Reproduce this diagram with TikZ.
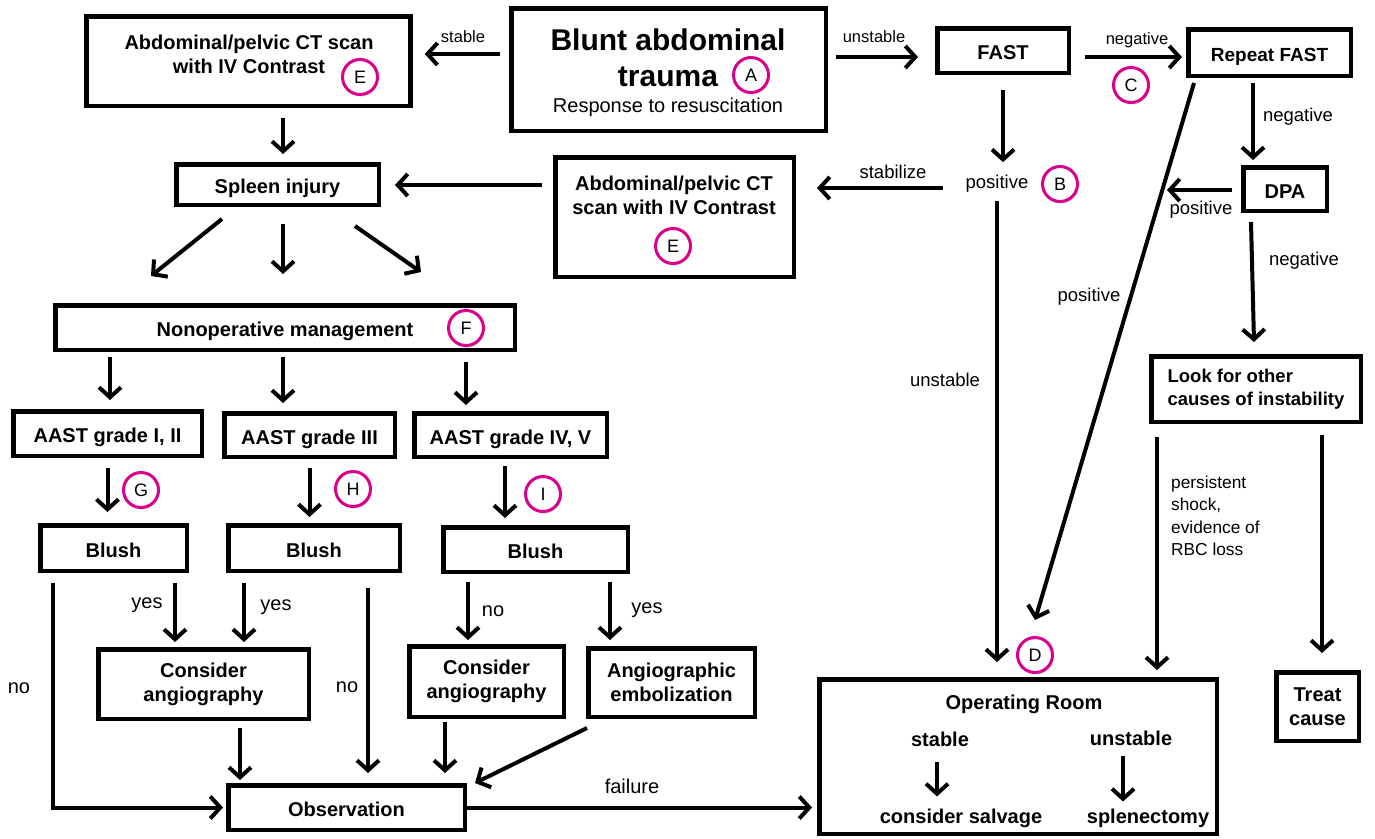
\documentclass[tikz,border=0pt]{standalone}
\usepackage{fontspec}
\setmainfont{Liberation Sans}
\usetikzlibrary{arrows.meta,shadows}
\definecolor{letterpink}{RGB}{218,0,139}

\begin{document}
\begin{tikzpicture}[x=1pt,y=-1pt,
  box/.style={draw,line width=4.5pt,inner sep=0pt,align=center,font=\fontsize{20}{24}\selectfont\bfseries},
  single/.style={text height=18pt,text depth=0pt},
  txt/.style={inner sep=0pt,align=center,font=\fontsize{20}{24}\selectfont\bfseries},
  lbl/.style={inner sep=0pt,font=\fontsize{18.5}{22.5}\selectfont},
  lbls/.style={inner sep=0pt,font=\fontsize{16.5}{20}\selectfont},
  lblb/.style={inner sep=0pt,font=\fontsize{20}{24}\selectfont},
  letter/.style={circle,draw=letterpink,line width=3pt,fill=white,minimum size=35pt,inner sep=0pt,
    font=\fontsize{18}{18}\selectfont,drop shadow={shadow xshift=1pt,shadow yshift=-2pt,opacity=.3}},
  arr/.style={line width=4pt,-{Straight Barb[length=10pt,width=22pt]}}]
\useasboundingbox(0,0) rectangle (1375,838);
\node[box,minimum width=324pt,minimum height=89.5pt](1) at (248.5,61){};
\node[box,minimum width=314.5pt,minimum height=122.5pt](2) at (668.5,69.5){};
\node[box,single,minimum width=131.5pt,minimum height=44.5pt](3) at (1003,50.5){FAST};
\node[box,single,minimum width=162.5pt,minimum height=46.5pt,font=\fontsize{19}{23}\selectfont\bfseries](4) at (1269.5,52.5){Repeat FAST};
\node[box,single,minimum width=83.5pt,minimum height=43.5pt](5) at (1285,189){DPA};
\node[box,minimum width=238.5pt,minimum height=119.5pt](6) at (674.5,217){};
\node[box,single,minimum width=202.5pt,minimum height=40.5pt](7) at (277.5,184.5){Spleen injury};
\node[box,minimum width=209.5pt,minimum height=65.5pt,align=left,font=\fontsize{18.5}{22.5}\selectfont\bfseries](8) at (1256,389){Look for other\\causes of instability};
\node[box,single,minimum width=459.5pt,minimum height=44.5pt](9) at (285,327.5){Nonoperative management};
\node[box,single,minimum width=188.5pt,minimum height=44.5pt](10) at (107.5,433.5){AAST grade I, II};
\node[box,single,minimum width=170.5pt,minimum height=43.5pt](11) at (309.5,435){AAST grade III};
\node[box,single,minimum width=192.5pt,minimum height=43.5pt](12) at (510.5,435){AAST grade IV, V};
\node[box,single,minimum width=146.5pt,minimum height=45.5pt](13) at (113.5,548){Blush};
\node[box,single,minimum width=171.5pt,minimum height=45.5pt](14) at (314,548){Blush};
\node[box,single,minimum width=184.5pt,minimum height=44.5pt](15) at (535.5,549.5){Blush};
\node[box,minimum width=210.5pt,minimum height=69.5pt](16) at (203.5,684){Consider\\angiography};
\node[box,minimum width=154.5pt,minimum height=70.5pt](17) at (486.5,681.5){Consider\\angiography};
\node[box,minimum width=166.5pt,minimum height=68.5pt](18) at (671.5,682.5){Angiographic\\embolization};
\node[box,single,minimum width=236.5pt,minimum height=44.5pt](19) at (346.5,807.5){Observation};
\node[box,minimum width=397.5pt,minimum height=154.5pt](20) at (1018,756.5){};
\node[box,minimum width=82.5pt,minimum height=68.5pt](21) at (1317.5,706.5){Treat\\cause};
\node[lbl](22) at (997,184){positive};
\node[txt,font=\fontsize{30}{36}\selectfont\bfseries](23) at (668,40){Blunt abdominal};
\node[txt,font=\fontsize{30}{36}\selectfont\bfseries](24) at (668,77){trauma};
\node[lblb](25) at (668,107){Response to resuscitation};
\node[txt](26) at (249,54){Abdominal/pelvic CT scan\\with IV Contrast};
\node[txt](27) at (674,195){Abdominal/pelvic CT\\scan with IV Contrast};
\node[txt](28) at (1024,704){Operating Room};
\node[txt](29) at (940,739){stable};
\node[txt](30) at (1131,738){unstable};
\node[txt](31) at (961,818){consider salvage};
\node[txt](32) at (1148,818){splenectomy};
\node[letter](33) at (751,75){A};
\node[letter](34) at (1060,184){B};
\node[letter](35) at (1131,85){C};
\node[letter](36) at (1035,655){D};
\node[letter](37) at (360,77){E};
\node[letter](38) at (673,246){E};
\node[letter](39) at (466,328){F};
\node[letter](40) at (141,490){G};
\node[letter](41) at (353,489){H};
\node[letter](42) at (543,494){I};
\coordinate(43) at (1167,190);
\node[lbls](44) at (463,37){stable};
\node[lbls](45) at (874,37){unstable};
\node[lbls](46) at (1137,40){negative};
\node[lbl](47) at (1298,117){negative};
\node[lbl](48) at (893,172){stabilize};
\node[lbl](49) at (1201,210){positive};
\node[lbl](50) at (1089,297){positive};
\node[lbl](51) at (1304,261){negative};
\node[lbl](52) at (945,380){unstable};
\node[lbl,anchor=west,align=left,font=\fontsize{17.3}{22.5}\selectfont](53) at (1171,516){persistent\\shock,\\evidence of\\RBC loss};
\node[lblb](54) at (19,688){no};
\node[lblb](55) at (147,605){yes};
\node[lblb](56) at (276,607){yes};
\node[lblb](57) at (347,687){no};
\node[lblb](58) at (493,611){no};
\node[lblb](59) at (647,610){yes};
\node[lblb](60) at (632,786){failure};
\draw[arr,shorten <=9pt,shorten >=12pt]([yshift=15.5pt]2.west) -- ([yshift=15.5pt]2.west -| 1.east);
\draw[arr,shorten <=8pt,shorten >=17pt]([yshift=12.5pt]2.east) -- ([yshift=12.5pt]2.east -| 3.west);
\draw[arr,shorten <=14pt,shorten >=4pt]([yshift=-6.5pt]3.east) -- ([yshift=-6.5pt]3.east -| 4.west);
\draw[arr,shorten <=15pt,shorten >=13pt](3.south) -- (3.south |- 22.north);
\draw[arr,shorten <=22pt,shorten >=21pt]([yshift=-4pt]22.west) -- ([yshift=-4pt]22.west -| 6.east);
\draw[arr,shorten <=11pt,shorten >=14pt]([yshift=32pt]6.west) -- ([yshift=32pt]6.west -| 7.east);
\draw[arr,shorten <=10pt,shorten >=8pt]([xshift=34.5pt]1.south) -- ([xshift=34.5pt]1.south |- 7.north);
\draw[arr]([xshift=-55.5pt,yshift=-12pt]7.south) -- ([xshift=-126.5pt,yshift=-69pt]7.south);
\draw[arr]([xshift=5.5pt,yshift=-17pt]7.south) -- ([xshift=5.5pt,yshift=-67pt]7.south);
\draw[arr]([xshift=77.5pt,yshift=-19pt]7.south) -- ([xshift=143.5pt,yshift=-65pt]7.south);
\draw[arr,shorten <=5pt,shorten >=9pt]([xshift=-175pt]9.south) -- ([xshift=-175pt]9.south |- 10.north);
\draw[arr,shorten <=5pt,shorten >=8pt]([xshift=-2pt]9.south) -- ([xshift=-2pt]9.south |- 11.north);
\draw[arr,shorten <=10pt,shorten >=6pt]([xshift=181pt]9.south) -- ([xshift=181pt]9.south |- 12.north);
\draw[arr,shorten <=10pt,shorten >=11pt](10.south) -- (10.south |- 13.north);
\draw[arr,shorten <=9pt,shorten >=6pt](11.south) -- (11.south |- 14.north);
\draw[arr,shorten <=7pt,shorten >=7pt]([xshift=-5.5pt]12.south) -- ([xshift=-5.5pt]12.south |- 15.north);
\draw[arr,shorten <=10pt,shorten >=3pt]([xshift=-60.5pt]13.south) |- (19.west);
\draw[arr,shorten <=10pt,shorten >=5pt]([xshift=61.5pt]13.south) -- ([xshift=61.5pt]13.south |- 16.north);
\draw[arr,shorten <=10pt,shorten >=5pt]([xshift=-70pt]14.south) -- ([xshift=-70pt]14.south |- 16.north);
\draw[arr,shorten <=15pt,shorten >=10pt]([xshift=54pt]14.south) -- ([xshift=54pt]14.south |- 19.north);
\draw[arr,shorten <=8pt,shorten >=4pt]([xshift=-67.5pt]15.south) -- ([xshift=-67.5pt]15.south |- 17.north);
\draw[arr,shorten <=8pt,shorten >=6pt]([xshift=74.5pt]15.south) -- ([xshift=74.5pt]15.south |- 18.north);
\draw[arr,shorten <=7pt,shorten >=3pt]([xshift=36.5pt]16.south) -- ([xshift=36.5pt]16.south |- 19.north);
\draw[arr,shorten <=3pt,shorten >=10pt]([xshift=-41.5pt]17.south) -- ([xshift=-41.5pt]17.south |- 19.north);
\draw[arr]([xshift=1pt,yshift=-9pt]18.south west) -- ([xshift=8pt]19.north east);
\draw[arr,shorten >=5pt](19.east) -- (19.east -| 20.west);
\draw[arr,shorten <=8pt,shorten >=15pt](22.south) -- (22.south |- 20.north);
\draw[arr]([xshift=-75.5pt,yshift=-5pt]4.south) -- ([xshift=17pt,yshift=57pt]20.north);
\draw[arr,shorten <=5pt,shorten >=5pt]([xshift=-16.5pt]4.south) -- ([xshift=-16.5pt]4.south |- 5.north);
\draw[arr,shorten <=9pt]([yshift=-1pt]5.west) -- (43);
\draw[arr]([xshift=-34pt,yshift=-9pt]5.south) -- ([xshift=-2pt,yshift=12pt]8.north);
\draw[arr,shorten <=13pt,shorten >=7pt]([xshift=-99pt]8.south) -- ([xshift=-99pt]8.south |- 20.north);
\draw[arr,shorten <=11pt,shorten >=17pt]([xshift=66pt]8.south) -- ([xshift=66pt]8.south |- 21.north);
\draw[arr,shorten <=15pt,shorten >=12pt]([xshift=-3pt]29.south) -- ([xshift=-3pt]29.south |- 31.north);
\draw[arr,shorten <=10pt,shorten >=7pt]([xshift=-8pt]30.south) -- ([xshift=-8pt]30.south |- 32.north);
\end{tikzpicture}
\end{document}
